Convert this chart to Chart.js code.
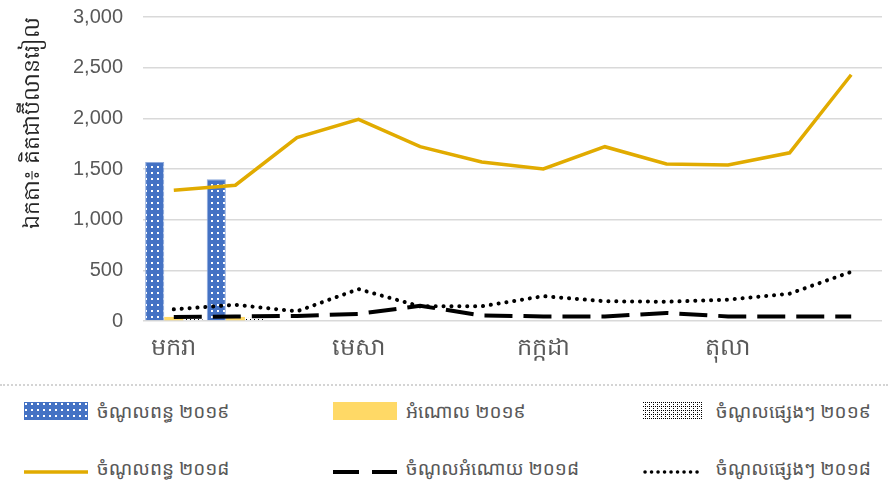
<!DOCTYPE html>
<html>
<head>
<meta charset="utf-8">
<script src="https://cdn.jsdelivr.net/npm/chart.js@4.4.1/dist/chart.umd.min.js"></script>
<style>
  html, body { margin: 0; padding: 0; background: #fff; }
  body { width: 888px; height: 496px; overflow: hidden; position: relative; font-family: "Noto Sans Khmer", "Khmer OS", "Noto Sans", sans-serif; }
  #wrap { position: absolute; left: 0; top: -15px; width: 888px; height: 391px; }
  #legend { position: absolute; left: 0; top: 384px; width: 888px; height: 112px; border-top: 2px dotted #d4d4d4; }
  .item { position: absolute; display: flex; align-items: center; font-size: 19px; color: #595959; height: 30px; }
  .item canvas { margin-right: 9px; }
</style>
</head>
<body>
<div id="wrap"><canvas id="chart" width="888" height="391"></canvas></div>
<div id="legend"></div>
<script>
(function () {
    const months = ['មករា', 'កុម្ភៈ', 'មីនា', 'មេសា', 'ឧសភា', 'មិថុនា', 'កក្កដា', 'សីហា', 'កញ្ញា', 'តុលា', 'វិច្ឆិកា', 'ធ្នូ'];

    // 2019 bars (only Jan, Feb reported)
    const tax2019    = [1570, 1400, null, null, null, null, null, null, null, null, null, null];
    const grant2019  = [40, 40, null, null, null, null, null, null, null, null, null, null];
    const other2019  = [25, 30, null, null, null, null, null, null, null, null, null, null];

    // 2018 lines
    const tax2018    = [1290, 1340, 1810, 1990, 1720, 1570, 1500, 1720, 1550, 1540, 1660, 2430];
    const grant2018  = [40, 45, 50, 70, 150, 55, 45, 45, 80, 45, 45, 45];
    const other2018  = [115, 160, 95, 315, 145, 145, 245, 195, 190, 210, 270, 485];

    const seriesNames = [
        'ចំណូលពន្ធ ២០១៩', 'អំណោល ២០១៩', 'ចំណូលផ្សេងៗ ២០១៩',
        'ចំណូលពន្ធ ២០១៨', 'ចំណូលអំណោយ ២០១៨', 'ចំណូលផ្សេងៗ ២០១៨'
    ];

    const yTitle = 'ឯកតា៖ គិតជាប៊ីលានរៀល';

    function dotPattern(ctx, bg, fg, step, dot) {
        const c = document.createElement('canvas');
        c.width = step; c.height = step;
        const p = c.getContext('2d');
        p.fillStyle = bg;
        p.fillRect(0, 0, step, step);
        p.fillStyle = fg;
        p.fillRect(1, 1, dot, dot);
        return ctx.createPattern(c, 'repeat');
    }

    function checkPattern(ctx) {
        const c = document.createElement('canvas');
        c.width = 4; c.height = 4;
        const p = c.getContext('2d');
        p.fillStyle = '#fff';
        p.fillRect(0, 0, 4, 4);
        p.fillStyle = '#000';
        p.fillRect(0, 0, 1, 1);
        p.fillRect(2, 2, 1, 1);
        p.fillRect(2, 0, 1, 1);
        return ctx.createPattern(c, 'repeat');
    }

    const canvas = document.getElementById('chart');
    const ctx = canvas.getContext('2d');

    const blueFill = dotPattern(ctx, '#4472C4', '#ffffff', 6, 2);
    const blackFill = checkPattern(ctx);

    const gold = '#E1AB00';
    const yellow = '#FFD966';

    new Chart(ctx, {
        type: 'bar',
        data: {
            labels: months,
            datasets: [
                { label: seriesNames[0], data: tax2019, backgroundColor: blueFill, borderColor: '#8faadc', borderWidth: 1, order: 2 },
                { label: seriesNames[1], data: grant2019, backgroundColor: yellow, order: 2 },
                { label: seriesNames[2], data: other2019, backgroundColor: blackFill, order: 2 },
                { label: seriesNames[3], data: tax2018, type: 'line', borderColor: gold, borderWidth: 3.5, pointRadius: 0, tension: 0, order: 1 },
                { label: seriesNames[4], data: grant2018, type: 'line', borderColor: '#000', borderWidth: 4, borderDash: [28, 11], pointRadius: 0, tension: 0, order: 1 },
                { label: seriesNames[5], data: other2018, type: 'line', borderColor: '#000', borderWidth: 4, borderDash: [0.1, 7.8], borderCapStyle: 'round', pointRadius: 0, tension: 0, order: 1 }
            ]
        },
        options: {
            responsive: false,
            animation: false,
            layout: { padding: { top: 0, right: 6, left: 0, bottom: 0 } },
            plugins: {
                legend: { display: false },
                tooltip: { enabled: false }
            },
            datasets: {
                bar: { categoryPercentage: 0.93, barPercentage: 1.0 }
            },
            scales: {
                x: {
                    grid: { display: false },
                    border: { display: false },
                    ticks: {
                        autoSkip: false,
                        maxRotation: 0,
                        color: '#595959',
                        font: { size: 24 },
                        padding: 5,
                        callback: function (v, i) { return i % 3 === 0 ? months[i] : ''; }
                    },
                    afterFit: function (scale) { scale.height = 55; }
                },
                y: {
                    min: 0,
                    max: 3000,
                    ticks: {
                        stepSize: 500,
                        color: '#595959',
                        font: { size: 20 },
                        padding: 20,
                        callback: function (v) { return v.toLocaleString('en-US'); }
                    },
                    grid: { color: '#d9d9d9', lineWidth: 1.5, drawTicks: false },
                    border: { display: false },
                    title: { display: true, text: yTitle, color: '#262626', align: 'end', font: { size: 22 }, padding: { top: 20, bottom: 0 } },
                    afterFit: function (scale) { scale.width = 143; }
                }
            }
        }
    });

    // legend
    const legend = document.getElementById('legend');
    const cols = [24, 333, 643];
    const rows = [25, 82];
    seriesNames.forEach(function (name, i) {
        const item = document.createElement('div');
        item.className = 'item';
        item.style.left = cols[i % 3] + 'px';
        item.style.top = (rows[Math.floor(i / 3)] - 15) + 'px';
        const sw = document.createElement('canvas');
        const w = i % 3 === 2 ? 59 : 64;
        sw.width = w; sw.height = 18;
        sw.style.marginRight = (i % 3 === 2 ? 14 : 9) + 'px';
        const s = sw.getContext('2d');
        if (i === 0) { s.fillStyle = dotPattern(s, '#4472C4', '#fff', 6, 2); s.fillRect(0, 0, w, 18); }
        if (i === 1) { s.fillStyle = yellow; s.fillRect(0, 0, w, 18); }
        if (i === 2) { s.fillStyle = checkPattern(s); s.fillRect(0, 0, w, 18); }
        if (i >= 3) {
            s.beginPath();
            s.moveTo(i === 5 ? 2 : 0, 13); s.lineTo(w, 13);
            s.strokeStyle = i === 3 ? gold : '#000';
            s.lineWidth = i === 3 ? 3.5 : 4;
            if (i === 4) s.setLineDash([26, 13]);
            if (i === 5) { s.setLineDash([0.1, 6.4]); s.lineCap = 'round'; s.lineWidth = 3.5; }
            s.stroke();
        }
        item.appendChild(sw);
        const t = document.createElement('span');
        t.textContent = name;
        item.appendChild(t);
        legend.appendChild(item);
    });
})();
</script>
</body>
</html>
